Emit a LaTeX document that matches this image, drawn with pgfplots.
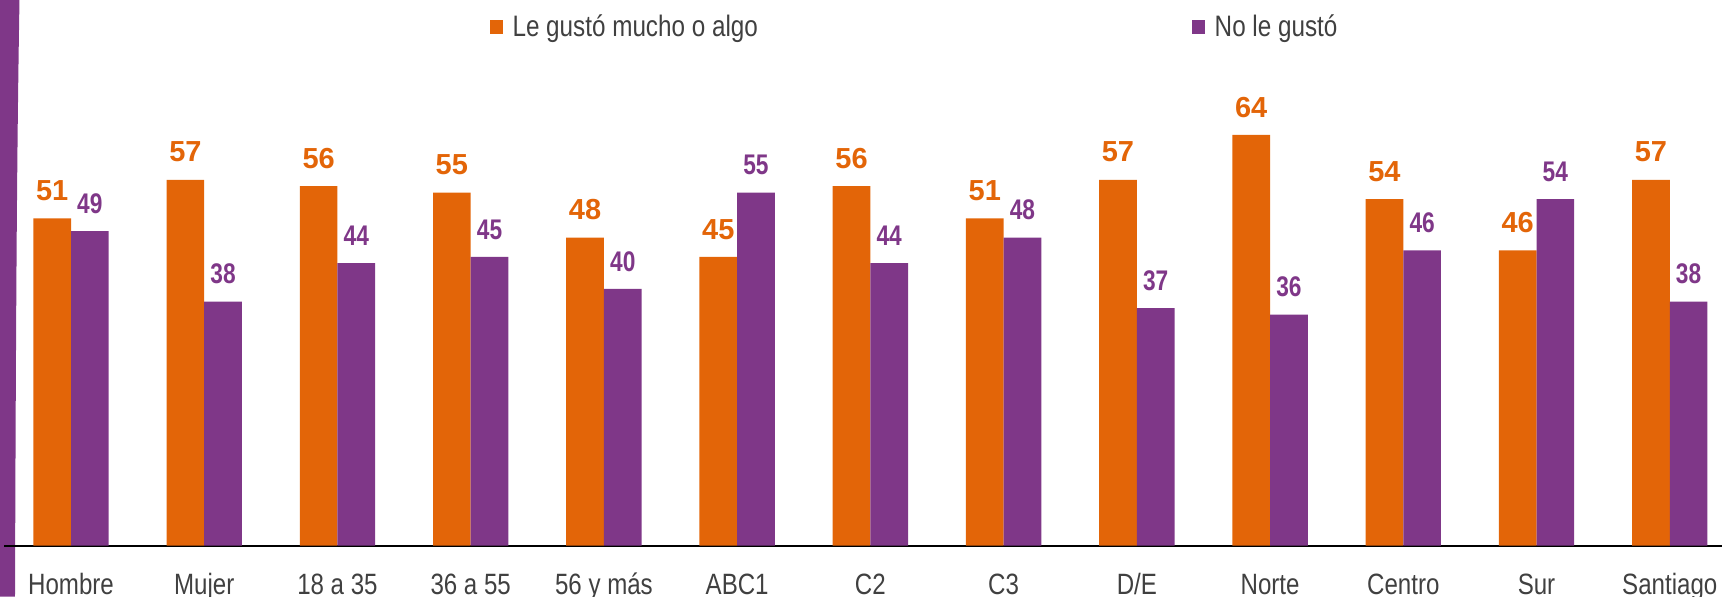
\documentclass[border=0pt]{standalone}
\usepackage{pgfplots}
\pgfplotsset{compat=1.18}
\usepackage{fontspec}
\setmainfont{Liberation Sans}
\newfontfamily\narrow[FakeStretch=0.82]{Liberation Sans}
\newfontfamily\narrowb[FakeStretch=0.80]{Liberation Sans}
\definecolor{cOr}{HTML}{E36508}
\definecolor{cPu}{HTML}{7F3788}
\definecolor{cTx}{HTML}{404040}
\begin{document}
\begin{tikzpicture}
\fill[cPu] (0pt,0pt) -- (7.5pt,0pt) .. controls (8pt,150pt) and (8.5pt,225pt) .. (9.75pt,298.5pt) -- (0pt,298.5pt) -- cycle;
\begin{axis}[
  at={(2.2pt,25.5pt)}, anchor=south west,
  scale only axis, width=859.3pt, height=273pt,
  xmin=-0.5, xmax=12.393, ymin=0, ymax=85,
  ybar=0pt, bar width=18.85pt,
  axis x line=bottom, axis y line=none,
  axis line style={-, black, line width=0.9pt},
  xtick=data,
  xticklabels={Hombre,Mujer,18 a 35,36 a 55,56 y más,ABC1,C2,C3,D/E,Norte,Centro,Sur,Santiago},
  major tick length=0pt,
  xticklabel style={overlay, font=\narrow\fontsize{14.7}{17}\selectfont, text=cTx, anchor=base, yshift=-24.5pt, inner sep=0pt},
  ytick=\empty,
  clip=false,
  /pgf/number format/assume math mode=true,
  nodes near coords,
  every node near coord/.append style={anchor=base, inner sep=0pt, yshift=8.9pt},
  legend style={draw=none, fill=none, at={(0.2822,0.9505)}, anchor=west,
    legend columns=2, inner sep=0pt,
    font=\narrow\fontsize{14.8}{17}\selectfont, text=cTx,
    /tikz/every even column/.append style={column sep=215pt}},
  legend image code/.code={\fill[#1,draw=none] (0pt,-3.4pt) rectangle (6.8pt,3.4pt); \path (9.5pt,0pt);},
]
\addplot[fill=cOr, draw=none, every node near coord/.append style={text=cOr, font=\bfseries\fontsize{14.5}{16}\selectfont}]
  coordinates {(0,51) (1,57) (2,56) (3,55) (4,48) (5,45) (6,56) (7,51) (8,57) (9,64) (10,54) (11,46) (12,57)};
\addplot[fill=cPu, draw=none, every node near coord/.append style={text=cPu, font=\narrowb\bfseries\fontsize{14.2}{16}\selectfont}]
  coordinates {(0,49) (1,38) (2,44) (3,45) (4,40) (5,55) (6,44) (7,48) (8,37) (9,36) (10,46) (11,54) (12,38)};
\legend{Le gustó mucho o algo, No le gustó}
\end{axis}
\end{tikzpicture}
\end{document}
